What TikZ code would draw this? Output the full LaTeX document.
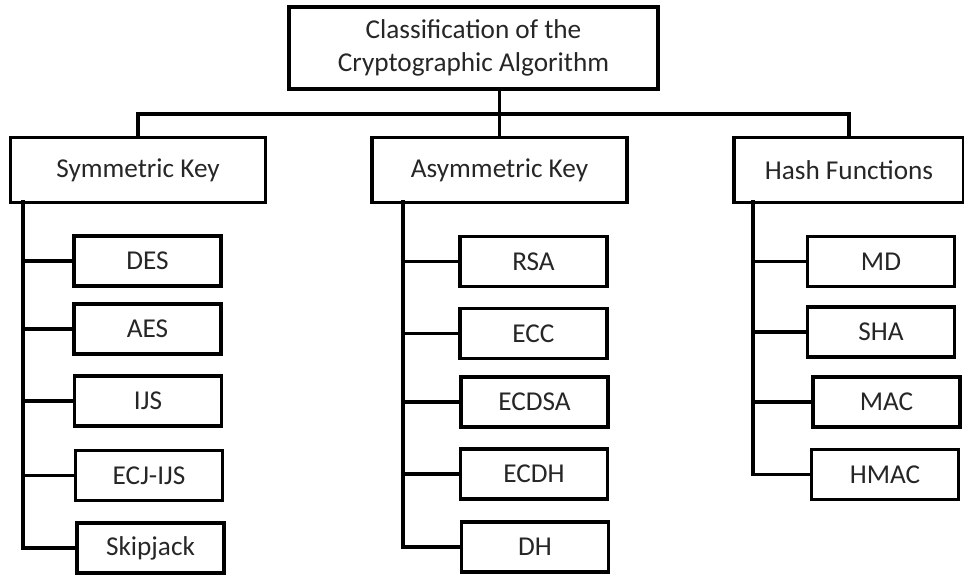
\documentclass[tikz,border=0pt]{standalone}
\usepackage{fontspec}
\setmainfont{Carlito}
\usepackage{tikz}
\usetikzlibrary{arrows.meta}

\begin{document}
\begin{tikzpicture}[x=0.02cm,y=-0.02cm,font=\fontsize{15.5}{19}\selectfont,
  box/.style={draw,line width=1.8pt,rectangle,inner sep=0pt,text=black!85},
  head/.style={box,minimum width=7.38cm,minimum height=1.64cm,align=center},
  cls/.style={box,minimum width=5.1cm,minimum height=1.3cm},
  alg/.style={box,minimum width=2.94cm,minimum height=1.0cm},
  link/.style={line width=1.8pt}]
  \useasboundingbox (0,0) rectangle (964,575);
  % root
  \node[head] (root) at (473.5,48) {Classification of the\\Cryptographic Algorithm};
  % three families
  \node[cls] (sym) at (138,170) {Symmetric Key};
  \node[cls] (asym) at (499.5,170) {Asymmetric Key};
  \node[cls,minimum width=4.6cm] (hash) at (849,170) {Hash Functions};
  % symmetric key algorithms
  \node[alg] (des) at (147.5,261) {DES};
  \node[alg] (aes) at (147.5,329) {AES};
  \node[alg] (ijs) at (148,401) {IJS};
  \node[alg] (ecjijs) at (149,475.5) {ECJ-IJS};
  \node[alg] (skip) at (150.5,548) {Skipjack};
  % asymmetric key algorithms
  \node[alg] (rsa) at (533.5,261.5) {RSA};
  \node[alg] (ecc) at (533.5,333.5) {ECC};
  \node[alg] (ecdsa) at (534.5,402) {ECDSA};
  \node[alg] (ecdh) at (534,474) {ECDH};
  \node[alg] (dh) at (535,547) {DH};
  % hash functions
  \node[alg] (md) at (881,261.5) {MD};
  \node[alg] (sha) at (881,332) {SHA};
  \node[alg] (mac) at (886.5,402) {MAC};
  \node[alg] (hmac) at (885,474.5) {HMAC};
  % tree connectors
  \coordinate (bus) at (499.5,114);
  \coordinate (symT) at (23,200);
  \coordinate (asymT) at (403,200);
  \coordinate (hashT) at (753,200);
  \draw[link] (root.south -| bus) -- (asym.north);
  \draw[link] (sym.north) |- (bus) -| (hash.north);
  \draw[link] (symT) |- (skip.west);
  \draw[link] (asymT) |- (dh.west);
  \draw[link] (hashT) |- (hmac.west);
  \foreach \n in {des,aes,ijs,ecjijs}
    \draw[link] (symT |- \n.west) -- (\n.west);
  \foreach \n in {rsa,ecc,ecdsa,ecdh}
    \draw[link] (asymT |- \n.west) -- (\n.west);
  \foreach \n in {md,sha,mac}
    \draw[link] (hashT |- \n.west) -- (\n.west);
\end{tikzpicture}
\end{document}
